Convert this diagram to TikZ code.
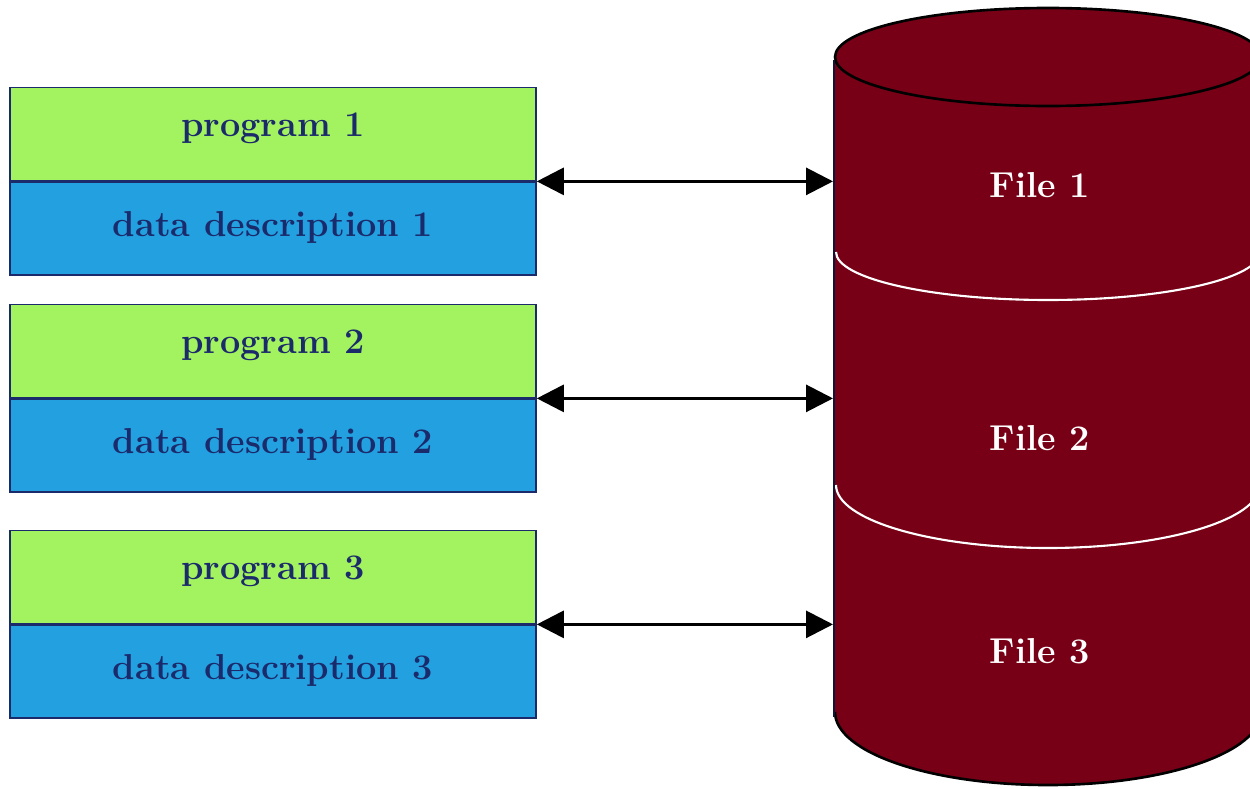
\documentclass[tikz,border=0pt]{standalone}
\usepackage{tikz}
\usetikzlibrary{arrows.meta}
\usetikzlibrary{positioning}
\definecolor{proggreen}{RGB}{163,242,95}
\definecolor{descblue}{RGB}{34,160,224}
\definecolor{boxnavy}{RGB}{27,42,107}
\definecolor{filered}{RGB}{120,0,22}
\tikzset{progbox/.style = {draw = boxnavy, line width = 1pt, fill = proggreen, text = boxnavy,
    minimum width = 10.52cm, minimum height = 1.86cm, inner sep = 0,
    text height = 0.5cm, text depth = 0.4cm,
    font = \fontsize{20.5}{24}\selectfont\bfseries}}
\tikzset{descbox/.style = {progbox, fill = descblue, text depth = 0.2cm}}
\tikzset{filelab/.style = {text = white, font = \fontsize{20.5}{24}\selectfont\bfseries}}
\tikzset{link/.style = {line width = 1.7pt, {Triangle[length=0.54cm, width=0.54cm]}-{Triangle[length=0.54cm, width=0.54cm]}}}

\begin{document}
\begin{tikzpicture}[x = 0.02cm, y = -0.02cm]
      \useasboundingbox (0, 0) rectangle (1250, 788);

      % the file cylinder
      \fill [filered] (835, 57) -- (835, 712)
        arc [start angle = 180, end angle = 0, x radius = 213, y radius = 73] -- (1261, 57) -- cycle;
      \draw [line width = 1.5pt] (835, 712) arc [start angle = 180, end angle = 0, x radius = 213, y radius = 73];
      \draw [line width = 1.5pt, fill = filered] (1048, 57) ellipse [x radius = 213, y radius = 49];
      \draw [white, line width = 1.2pt] (836, 252) arc [start angle = 180, end angle = 0, x radius = 212, y radius = 48];
      \draw [white, line width = 1.2pt] (836, 485) arc [start angle = 180, end angle = 0, x radius = 212, y radius = 63];
      \draw [boxnavy!50!black, line width = 1.2pt] (834, 60) -- (834, 717);
      \coordinate (cylleft) at (833, 60);

      \foreach \i/\y/\fy in {1/134/185, 2/351/438, 3/577/651} {
        \node [progbox] (prog\i) at (273, \y) {program \i};
        \node [descbox, below = 0pt of prog\i] (desc\i) {data description \i};
        \node [filelab] (file\i) at (1040, \fy) {File \i};
        \draw [link] (prog\i.south east) -- (prog\i.south east -| cylleft);
      }
    \end{tikzpicture}
\end{document}
